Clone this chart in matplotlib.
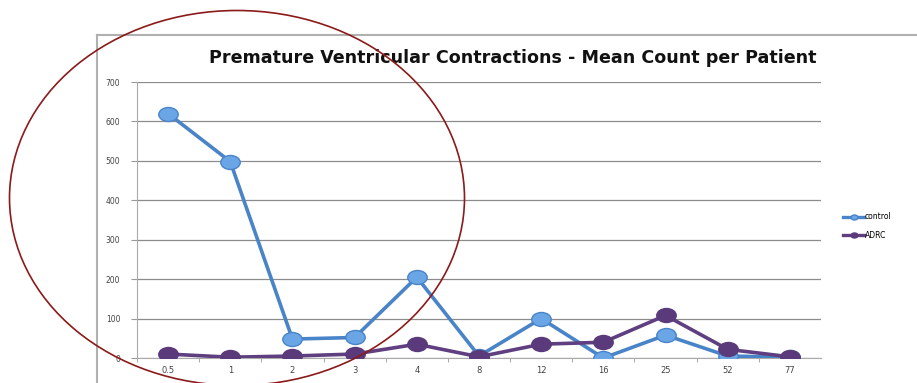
import matplotlib
matplotlib.use('Agg')
import matplotlib.pyplot as plt
from matplotlib.patches import Ellipse
from matplotlib.lines import Line2D
from matplotlib.path import Path
from matplotlib.transforms import Affine2D

weeks = ['0.5', '1', '2', '3', '4', '8', '12', '16', '25', '52', '77']
control = [620, 498, 48, 52, 205, 5, 100, 0, 58, 5, 2]
adrc = [10, 2, 5, 10, 35, 3, 35, 40, 108, 22, 3]

# slightly flattened dot marker
oval = Path.unit_circle().transformed(Affine2D().scale(1.0, 0.72))

fig = plt.figure(figsize=(9.17, 3.83), dpi=100)
ax = fig.add_axes([137 / 917, 1 - 358 / 383, 684 / 917, 276 / 383])

x = list(range(len(weeks)))
ax.plot(x, control, color='#4a84c8', lw=2.6, marker=oval, ms=14,
        mfc='#6aa6e6', mec='#4a84c8', mew=1, label='control', zorder=3)
ax.plot(x, adrc, color='#5f3f80', lw=2.6, marker=oval, ms=14,
        mfc='#5a3a7a', mec='#5a3a7a', mew=1, label='ADRC', zorder=4)

ax.set_xlim(-0.5, len(weeks) - 0.5)
ax.set_ylim(0, 700)
ax.set_yticks(range(0, 701, 100))
ax.set_xticks(x)
ax.set_xticklabels(weeks)
ax.set_xticks([i + 0.5 for i in x[:-1]] + [-0.5], minor=True)
ax.tick_params(axis='x', which='major', length=0, labelsize=6, colors='#444444', pad=6)
ax.tick_params(axis='x', which='minor', length=3, color='#999999')
ax.tick_params(axis='y', length=4, color='#999999', labelsize=5.5, colors='#444444', pad=8)
ax.grid(axis='y', color='#8c8c8c', lw=0.9)
ax.set_axisbelow(True)
for s in ['top', 'right']:
    ax.spines[s].set_visible(False)
ax.spines['left'].set_color('#aaaaaa')
ax.spines['bottom'].set_color('#aaaaaa')

fig.text(513 / 917, 1 - 58 / 383, 'Premature Ventricular Contractions - Mean Count per Patient',
         ha='center', va='center', fontsize=12.6, fontweight='bold', family='DejaVu Sans', color='#111111')

handles = [Line2D([], [], color='#4a84c8', lw=2.4, marker=oval, ms=5, mfc='#6aa6e6', mec='#4a84c8'),
           Line2D([], [], color='#5f3f80', lw=2.4, marker=oval, ms=5, mfc='#5a3a7a', mec='#5a3a7a')]
fig.legend(handles, ['control', 'ADRC'], loc='center left', bbox_to_anchor=(836 / 917, 1 - 226 / 383),
           frameon=False, fontsize=5.5, handlelength=2.8, handletextpad=0.1, labelspacing=1.2)

# frame around the chart
fig.add_artist(Line2D([97 / 917, 1], [1 - 35 / 383] * 2, color='#b0b0b0', lw=1.5))
fig.add_artist(Line2D([97 / 917] * 2, [0, 1 - 35 / 383], color='#b0b0b0', lw=1.5))

# hand-drawn highlight ring
ring = Ellipse((237 / 917, 1 - 198 / 383), 455 / 917, 375 / 383, transform=fig.transFigure,
               fill=False, ec='#8b1a1a', lw=1.2, zorder=10)
fig.add_artist(ring)

fig.savefig('out.png', dpi=100)
